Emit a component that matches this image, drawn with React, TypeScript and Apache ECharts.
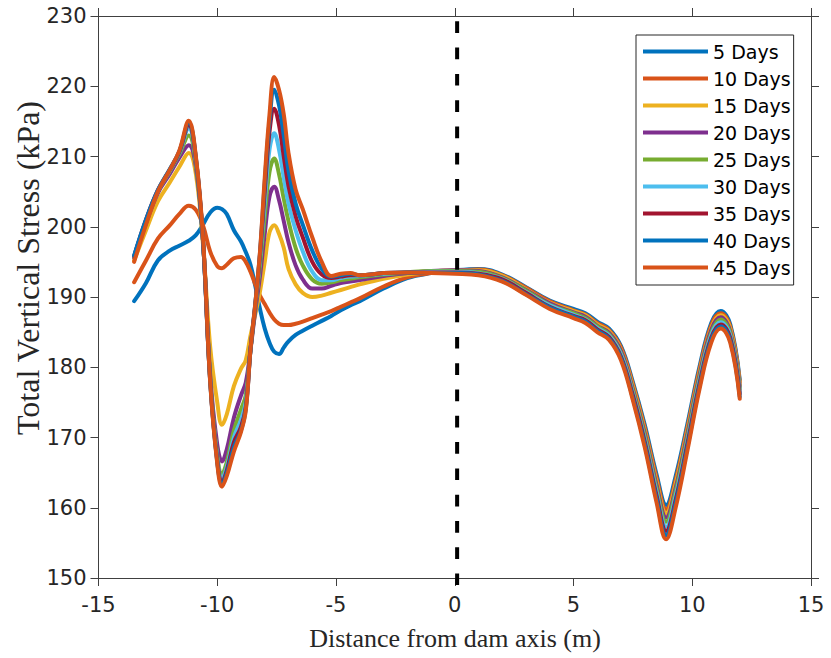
import React, { useEffect, useRef } from "react";
import * as echarts from "echarts";

const xDistance = [-13.5, -13.0, -12.5, -12.0, -11.6, -11.2, -10.9, -10.6, -10.3, -10.0, -9.8, -9.6, -9.3, -9.0, -8.8, -8.6, -8.4, -8.2, -8.0, -7.8, -7.6, -7.4, -7.2, -7.0, -6.7, -6.4, -6.0, -5.6, -5.2, -4.8, -4.4, -4.0, -3.0, -2.0, -1.0, 0, 1, 2, 3, 4, 5, 5.5, 6.0, 6.5, 7.0, 7.5, 8.0, 8.5, 8.9, 9.3, 9.8, 10.3, 10.8, 11.2, 11.6, 12.0];

const days5 = [189.4, 192.0, 195.2, 196.6, 197.3, 198.0, 198.8, 200.3, 202.0, 202.7, 202.5, 201.8, 199.5, 197.9, 196.4, 194.6, 191.6, 188.3, 185.5, 183.5, 182.2, 181.9, 182.8, 183.7, 184.6, 185.2, 185.9, 186.6, 187.3, 188.1, 188.8, 189.4, 191.2, 192.7, 193.4,
  193.8, 194.0, 193.2, 191.4, 189.5, 188.3, 187.7, 186.5, 185.5, 183.0, 177.9, 171.8, 164.7, 160.4, 164.5, 172.0, 180.0, 186.3, 188.0, 186.1, 178.2];
const days10 = [192.1, 195.2, 198.3, 200.2, 201.8, 203.0, 202.4, 200.2, 196.5, 194.4, 194.1, 194.6, 195.5, 195.7, 195.0, 193.6, 191.8, 190.2, 189.0, 187.8, 186.8, 186.2, 186.0, 186.0, 186.2, 186.5, 187.0, 187.5, 188.0, 188.6, 189.2, 189.8, 191.5, 192.8, 193.4,
  193.7, 193.9, 193.1, 191.3, 189.4, 188.1, 187.5, 186.3, 185.3, 182.8, 177.6, 171.4, 164.2, 159.8, 163.9, 171.5, 179.6, 186.0, 187.7, 185.8, 177.9];
const days15 = [195.2, 199.5, 203.6, 206.3, 208.5, 210.5, 207.5, 197.5, 183.0, 175.0, 171.8, 173.3, 177.3, 179.8, 181.0, 184.5, 187.5, 190.8, 195.0, 199.2, 200.2, 199.0, 197.0, 194.0, 191.8, 190.6, 190.0, 190.2, 190.6, 191.0, 191.4, 191.8, 192.6, 193.2, 193.6,
  193.8, 193.8, 193.0, 191.1, 189.2, 188.0, 187.4, 186.1, 185.1, 182.5, 177.3, 171.0, 163.7, 159.2, 163.4, 171.1, 179.2, 185.6, 187.4, 185.5, 177.5];
const days20 = [195.6, 200.5, 204.8, 207.5, 209.8, 211.6, 208.5, 198.0, 179.0, 169.0, 166.6, 168.3, 172.8, 176.0, 177.8, 182.5, 188.0, 193.0, 199.0, 204.3, 205.7, 203.8, 200.8, 197.8, 194.5, 192.5, 191.2, 191.2, 191.6, 192.0, 192.2, 192.4, 193.0, 193.4, 193.7,
  193.8, 193.7, 192.8, 191.0, 189.1, 187.8, 187.2, 185.9, 184.9, 182.3, 176.9, 170.6, 163.2, 158.6, 162.8, 170.6, 178.8, 185.3, 187.1, 185.1, 177.2];
const days25 = [195.7, 200.8, 205.0, 207.9, 210.3, 213.0, 209.0, 198.0, 178.5, 167.5, 164.8, 166.5, 171.0, 174.0, 176.0, 182.5, 188.5, 194.5, 201.5, 207.8, 209.7, 207.5, 204.0, 200.8, 197.0, 194.5, 192.5, 191.9, 192.1, 192.4, 192.6, 192.8, 193.2, 193.5, 193.7,
  193.7, 193.6, 192.7, 190.9, 188.9, 187.7, 187.0, 185.8, 184.7, 182.0, 176.6, 170.2, 162.7, 158.0, 162.3, 170.1, 178.4, 184.9, 186.8, 184.8, 176.9];
const days30 = [195.8, 200.9, 205.1, 208.0, 210.5, 214.0, 209.5, 198.0, 178.3, 167.0, 164.2, 165.8, 170.0, 172.5, 175.0, 182.5, 188.7, 195.5, 203.5, 211.0, 213.3, 211.0, 207.0, 203.3, 199.5, 196.5, 193.6, 192.4, 192.4, 192.7, 192.9, 193.0, 193.3, 193.5, 193.6,
  193.6, 193.4, 192.6, 190.7, 188.8, 187.5, 186.8, 185.6, 184.5, 181.8, 176.3, 169.8, 162.2, 157.3, 161.7, 169.6, 178.0, 184.6, 186.4, 184.5, 176.5];
const days35 = [195.8, 201.0, 205.2, 208.1, 210.6, 214.5, 209.7, 198.0, 178.2, 166.7, 163.8, 165.3, 169.3, 171.5, 174.3, 182.5, 188.8, 196.0, 205.0, 213.5, 216.8, 214.5, 210.0, 205.8, 201.5, 198.5, 195.0, 193.2, 192.7, 192.9, 193.1, 193.1, 193.4, 193.5, 193.5,
  193.5, 193.3, 192.5, 190.6, 188.6, 187.3, 186.7, 185.4, 184.3, 181.5, 176.0, 169.4, 161.7, 156.7, 161.1, 169.2, 177.6, 184.2, 186.1, 184.2, 176.2];
const days40 = [195.9, 201.0, 205.2, 208.2, 210.7, 214.8, 209.8, 198.0, 178.1, 166.5, 163.5, 164.9, 168.6, 171.0, 174.0, 182.5, 189.0, 196.3, 206.3, 215.0, 219.5, 217.3, 213.0, 208.0, 203.3, 200.3, 196.6, 194.0, 192.9, 193.1, 193.3, 193.1, 193.4, 193.5, 193.4,
  193.4, 193.2, 192.3, 190.4, 188.5, 187.2, 186.5, 185.2, 184.1, 181.3, 175.6, 169.0, 161.2, 156.1, 160.6, 168.7, 177.2, 183.9, 185.8, 183.8, 175.8];
const days45 = [195.0, 200.3, 205.0, 208.1, 210.8, 215.1, 210.0, 198.5, 178.0, 166.3, 163.0, 164.5, 168.0, 170.8, 173.8, 182.5, 189.0, 196.5, 207.0, 216.0, 221.3, 219.5, 216.0, 210.5, 205.3, 202.5, 198.5, 195.0, 193.0, 193.3, 193.4, 193.1, 193.4, 193.5, 193.4,
  193.3, 193.1, 192.2, 190.3, 188.3, 187.0, 186.3, 185.0, 183.9, 181.0, 175.3, 168.6, 160.7, 155.5, 160.0, 168.2, 176.8, 183.5, 185.5, 183.5, 175.5];

const seriesNames = ["5 Days", "10 Days", "15 Days", "20 Days", "25 Days", "30 Days", "35 Days", "40 Days", "45 Days"];
const seriesValues = [days5, days10, days15, days20, days25, days30, days35, days40, days45];
const seriesColors = ["#0072BD", "#D95319", "#EDB120", "#7E2F8E", "#77AC30", "#4DBEEE", "#A2142F", "#0072BD", "#D95319"];

const damAxisX = 0.1;
const damAxisY = [230, 149];

const xTitle = "Distance from dam axis (m)";
const yTitle = "Total Vertical Stress (kPa)";

export default function App() {
  const ref = useRef<HTMLDivElement>(null);
  useEffect(() => {
    if (!ref.current) return;
    const chart = echarts.init(ref.current, undefined, { renderer: "svg" });
    const axisColor = "#404040";
    const lineSeries: any[] = seriesNames.map((name, k) => ({
      name,
      type: "line",
      data: xDistance.map((x, i) => [x, seriesValues[k][i]]),
      smooth: 0.4,
      showSymbol: false,
      symbol: "none",
      lineStyle: { width: 4, color: seriesColors[k], join: "round", cap: "round" },
      itemStyle: { color: seriesColors[k] },
      z: 2 + k,
    }));
    lineSeries.push({
      name: "dam axis",
      type: "line",
      data: damAxisY.map((y) => [damAxisX, y]),
      showSymbol: false,
      symbol: "none",
      clip: false,
      lineStyle: { width: 4, color: "#000000", type: [11.7, 14.6], dashOffset: 20.6 },
      z: 20,
    });
    const tickStyle = { show: true, inside: false, length: 8, lineStyle: { color: axisColor, width: 1 } };
    chart.setOption({
      animation: false,
      grid: { left: 98.5, right: 20, top: 16, bottom: 80, containLabel: false, outerBoundsMode: "none" },
      xAxis: [
        {
          type: "value", min: -15, max: 15, interval: 5, position: "bottom",
          axisLine: { show: true, onZero: false, lineStyle: { color: axisColor, width: 1 } },
          axisTick: tickStyle,
          splitLine: { show: false },
          axisLabel: { color: "#262626", fontFamily: "DejaVu Sans", fontSize: 21, margin: 16 },
        },
        {
          type: "value", min: -15, max: 15, interval: 5, position: "top",
          axisLine: { show: true, onZero: false, lineStyle: { color: axisColor, width: 1 } },
          axisTick: tickStyle,
          splitLine: { show: false },
          axisLabel: { show: false },
        },
      ],
      yAxis: [
        {
          type: "value", min: 150, max: 230, interval: 10, position: "left",
          axisLine: { show: true, onZero: false, lineStyle: { color: axisColor, width: 1 } },
          axisTick: tickStyle,
          splitLine: { show: false },
          axisLabel: { color: "#262626", fontFamily: "DejaVu Sans", fontSize: 21, margin: 12 },
        },
        {
          type: "value", min: 150, max: 230, interval: 10, position: "right",
          axisLine: { show: true, onZero: false, lineStyle: { color: axisColor, width: 1 } },
          axisTick: tickStyle,
          splitLine: { show: false },
          axisLabel: { show: false },
        },
      ],
      legend: {
        data: seriesNames,
        orient: "vertical",
        left: 636,
        top: 35,
        padding: [3, 3, 4, 7],
        itemGap: 0,
        itemWidth: 65,
        itemHeight: 4,
        icon: "rect",
        backgroundColor: "#ffffff",
        borderColor: "#262626",
        borderWidth: 1,
        borderRadius: 0,
        textStyle: { color: "#000000", fontFamily: "DejaVu Sans", fontSize: 19, lineHeight: 27 },
      },
      graphic: [
        {
          type: "text",
          x: 455,
          y: 638,
          style: { text: xTitle, font: "26px 'Liberation Serif'", fill: "#262626", align: "center", verticalAlign: "middle" },
        },
        {
          type: "text",
          x: 28,
          y: 268,
          rotation: Math.PI / 2,
          style: { text: yTitle, font: "32px 'Liberation Serif'", fill: "#262626", align: "center", verticalAlign: "middle" },
        },
      ],
      series: lineSeries,
    });
    return () => chart.dispose();
  }, []);
  return <div ref={ref} style={{ position: "fixed", left: 0, top: 0, width: 831, height: 658, background: "#ffffff" }} />;
}
